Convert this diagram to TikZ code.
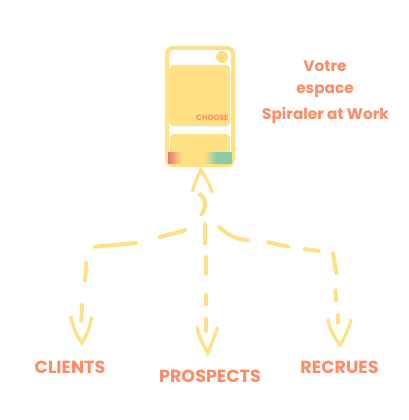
\documentclass[tikz,border=0pt]{standalone}
\usepackage{fontspec}
\setmainfont{Poppins}
\definecolor{sun}{HTML}{FFE082}
\definecolor{coral}{HTML}{FF8A65}
\definecolor{redend}{HTML}{E97A72}
\definecolor{greenend}{HTML}{88CCA8}
\tikzset{
  wire/.style={draw=sun,line width=4pt,line cap=round,line join=round},
  tipline/.style={draw=sun,line width=3.2pt,line cap=butt,line join=miter},
  label/.style={text=coral,font=\bfseries\fontsize{17.5}{17.5}\selectfont,inner sep=0pt,anchor=center},
  title/.style={text=coral,font=\bfseries\fontsize{15.3}{15.3}\selectfont,inner sep=0pt,anchor=center},
  card/.style={fill=sun,rounded corners=4pt,inner sep=0pt,anchor=north west}
}
\begin{document}
\begin{tikzpicture}[x=1pt,y=-1pt]
\useasboundingbox (0,0) rectangle (408,420);
% phone
\node[draw=sun,line width=4pt,rounded corners=6pt,minimum width=66pt,minimum height=117pt,inner sep=0pt,anchor=center] (phone) at (200,106.5) {};
\node[card,minimum width=61pt,minimum height=61pt] (upper) at (169,65) {};
\node[card,minimum width=60pt,minimum height=31pt] (lower) at (170,134) {};
\node[circle,fill=sun,minimum size=12pt,inner sep=0pt] (dot) at (222,57) {};
\fill[left color=redend,right color=sun] (168,152) rectangle (182,163.5);
\fill[left color=sun,right color=greenend] (204,152) rectangle (216,163.5);
\fill[greenend] (216,152) rectangle (231.5,163.5);
\node[text=coral,font=\bfseries\fontsize{7.6}{7.6}\selectfont,inner sep=0pt,anchor=east] (choose) at (228.5,118) {CHOOSE};
% text
\node[title] (t1) at (325,66) {Votre};
\node[title] (t2) at (325,91) {espace};
\node[title] (t3) at (325.5,115) {Spiraler at Work};
\node[label] (clients) at (70,367) {CLIENTS};
\node[label] (prospects) at (210,376) {PROSPECTS};
\node[label] (recrues) at (339.5,367) {RECRUES};
% tips
\coordinate (up) at (201,170);
\coordinate (hub) at (205.3,224.3);
\coordinate (lt) at (82,343.3);
\coordinate (ct) at (207.7,353.3);
\coordinate (rt) at (340,345);
% up arrow
\draw[tipline] (192.3,191.7) .. controls (194.5,184) and (197,178) .. (up) .. controls (205,177) and (210,184) .. (212,192.7);
\draw[wire] (200,194.3) .. controls (204,197) and (206,203) .. (204.7,207) .. controls (204.5,210) and (203,213) .. (201.3,214.3);
% centre
\draw[wire] (hub) -- (205.3,243.3);
\draw[wire] (206,257) -- (206,273.7);
\draw[wire] (206.3,295) -- (206.3,304.3);
\draw[wire] (206.3,319) -- (206.3,331);
\draw[tipline] (197.3,326.7) .. controls (198,335) and (202,342) .. (ct) .. controls (212,343) and (215,335) .. (217.7,327.3);
% left
\draw[wire] (185.3,230.3) -- (159.7,237);
\draw[wire] (136,243) -- (94.7,246.7);
\draw[wire] (86.3,262.7) -- (85,280.3);
\draw[wire] (82,305) -- (81.3,321);
\draw[tipline] (71,315.7) .. controls (72,327) and (77,335) .. (lt) .. controls (87,335) and (90,326) .. (92,316.7);
% right
\draw[wire] (219,227) .. controls (227,234) and (236,239.5) .. (248,240.3);
\draw[wire] (268,242.3) -- (288.3,246.7);
\draw[wire] (305,249) -- (318.7,251);
\draw[wire] (333,253.3) -- (336.3,273);
\draw[wire] (335.3,290.3) -- (336,300.3);
\draw[wire] (337.7,315) -- (337.7,322.7);
\draw[tipline] (328,318.7) .. controls (329,330) and (335,337) .. (rt) .. controls (345,337) and (349,328) .. (351,319.3);
\end{tikzpicture}
\end{document}
